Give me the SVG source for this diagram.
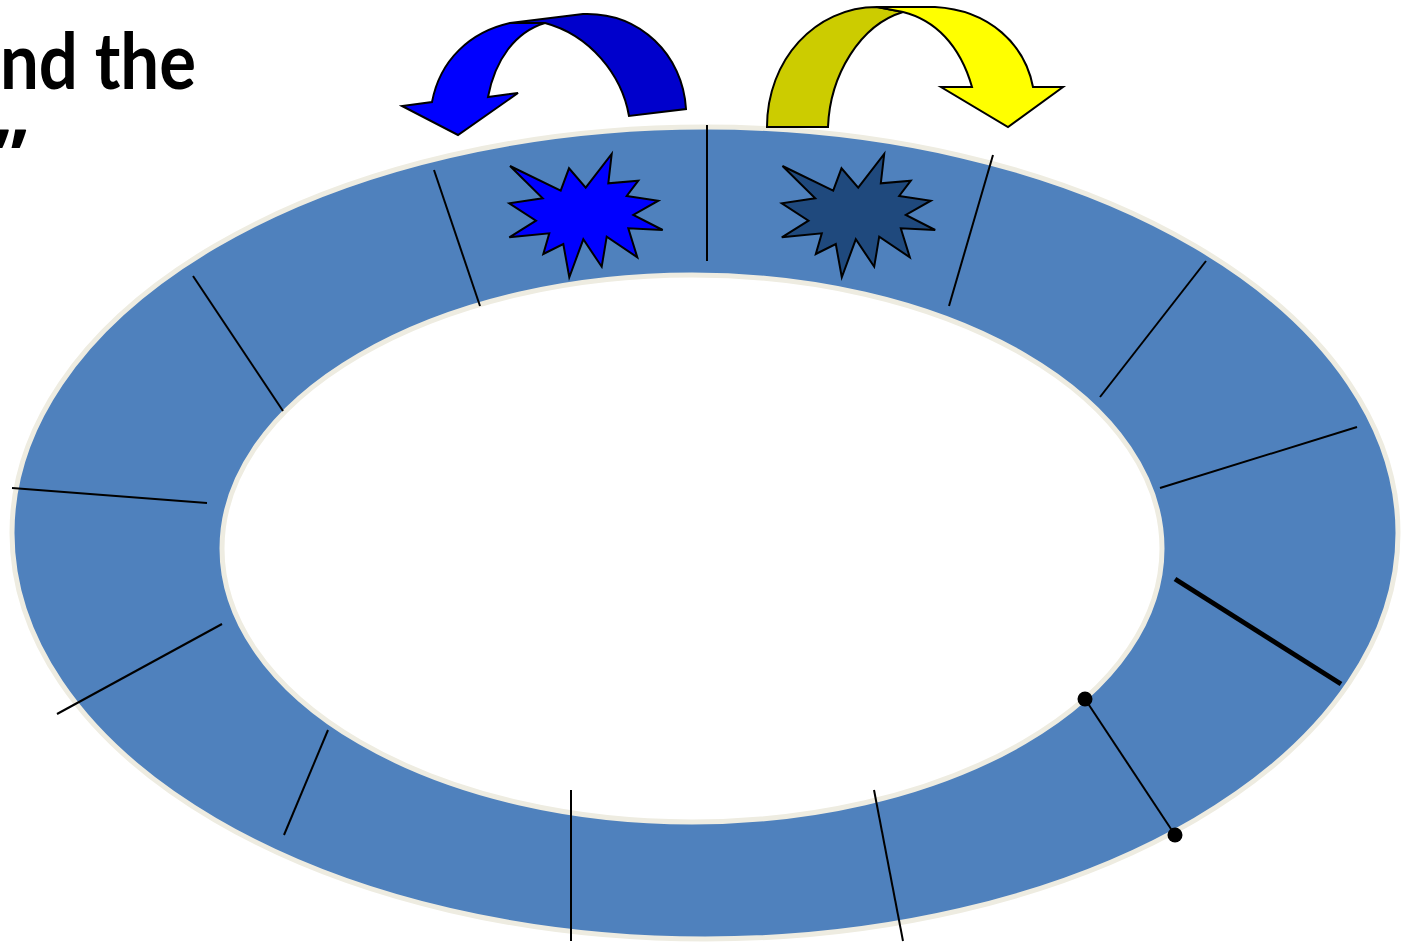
<svg xmlns="http://www.w3.org/2000/svg" width="1405" height="943" viewBox="0 0 1405 943">
<style>
.ring{fill:#4F81BD;stroke:#EEECE1;stroke-width:5}
.hole{fill:#FFFFFF;stroke:#EEECE1;stroke-width:5}
.div{stroke:#000;stroke-width:2;fill:none}
.outl{stroke:#000;stroke-width:2;stroke-linejoin:miter}
.title{font-family:Lato,"Open Sans","Liberation Sans",sans-serif;font-weight:bold;font-size:78px;fill:#000}
.quote{font-family:"Open Sans","Liberation Sans",sans-serif;font-weight:bold;font-size:76px;fill:#000}
</style>
<defs>
<path id="burst" d="M611.7,154 L608.3,183.3 L638.3,180.7 L626.7,196 L658.3,200.7 L633.3,215 L662.7,230 L628.3,228.3 L637.3,257.3 L606.7,236.7 L601.7,266.7 L583.3,239.3 L569.3,277.3 L563.3,244 L543.3,254 L549.3,233.3 L509.3,237.3 L536,220.7 L509.3,203.3 L542.7,198.3 L510,166 L560.7,190.7 L569,168.3 L585.7,187.7 Z"/>
</defs>
<rect width="1405" height="943" fill="#FFFFFF"/>
<g id="title">
<text class="title" x="0" y="89" textLength="196" lengthAdjust="spacingAndGlyphs">nd the</text>
<text class="quote" x="27" y="183" text-anchor="end">”</text>
</g>
<g id="ring">
<ellipse class="ring" cx="705" cy="533" rx="693" ry="406"/>
<ellipse class="hole" cx="692" cy="548.5" rx="470" ry="273.5"/>
</g>
<g id="connectors">
<line class="div" x1="707" y1="125" x2="707" y2="261"/>
<line class="div" x1="434" y1="170" x2="480" y2="306"/>
<line class="div" x1="193" y1="276" x2="283" y2="411"/>
<line class="div" x1="12" y1="488" x2="207" y2="503"/>
<line class="div" x1="57" y1="714" x2="222" y2="624"/>
<line class="div" x1="328" y1="730" x2="284" y2="835"/>
<line class="div" x1="571" y1="790" x2="571" y2="941"/>
<line class="div" x1="874" y1="790" x2="903" y2="941"/>
<line class="div" x1="1085" y1="699" x2="1175" y2="835"/>
<line x1="1175" y1="579" x2="1341" y2="684" stroke="#000" stroke-width="5"/>
<line class="div" x1="1160" y1="488" x2="1357" y2="427"/>
<line class="div" x1="1100" y1="397" x2="1206" y2="261"/>
<line class="div" x1="993" y1="155" x2="949" y2="306"/>
<circle cx="1085" cy="699" r="7.5" fill="#000"/>
<circle cx="1175" cy="835" r="7.5" fill="#000"/>
</g>
<g id="burst-blue">
<use href="#burst" fill="#0000FF" class="outl"/>
</g>
<g id="burst-dark">
<use href="#burst" fill="#1F497D" class="outl" transform="translate(272.5,0)"/>
</g>
<g id="arrow-blue">
<path class="outl" fill="#0000CC" d="M686,109 C683,55 640,12 583,14 L510,23 L545,23 C590,35 622,75 629,116 Z"/>
<path class="outl" fill="#0000FF" d="M510,23 C470,32 440,60 432,102 L402,106 L458,135 L518,93 L488,97 C495,60 515,32 545,23 Z"/>
</g>
<g id="arrow-yellow">
<path class="outl" fill="#CCCC00" d="M767,127 C767,60 815,7 877,7 L903,12 C860,25 830,75 828,127 Z"/>
<path class="outl" fill="#FFFF00" d="M877,7 L935,7 C990,10 1025,45 1033,87 L1063,87 L1008,127 L941,87 L972,87 C960,45 935,20 903,12 Z"/>
</g>
</svg>
